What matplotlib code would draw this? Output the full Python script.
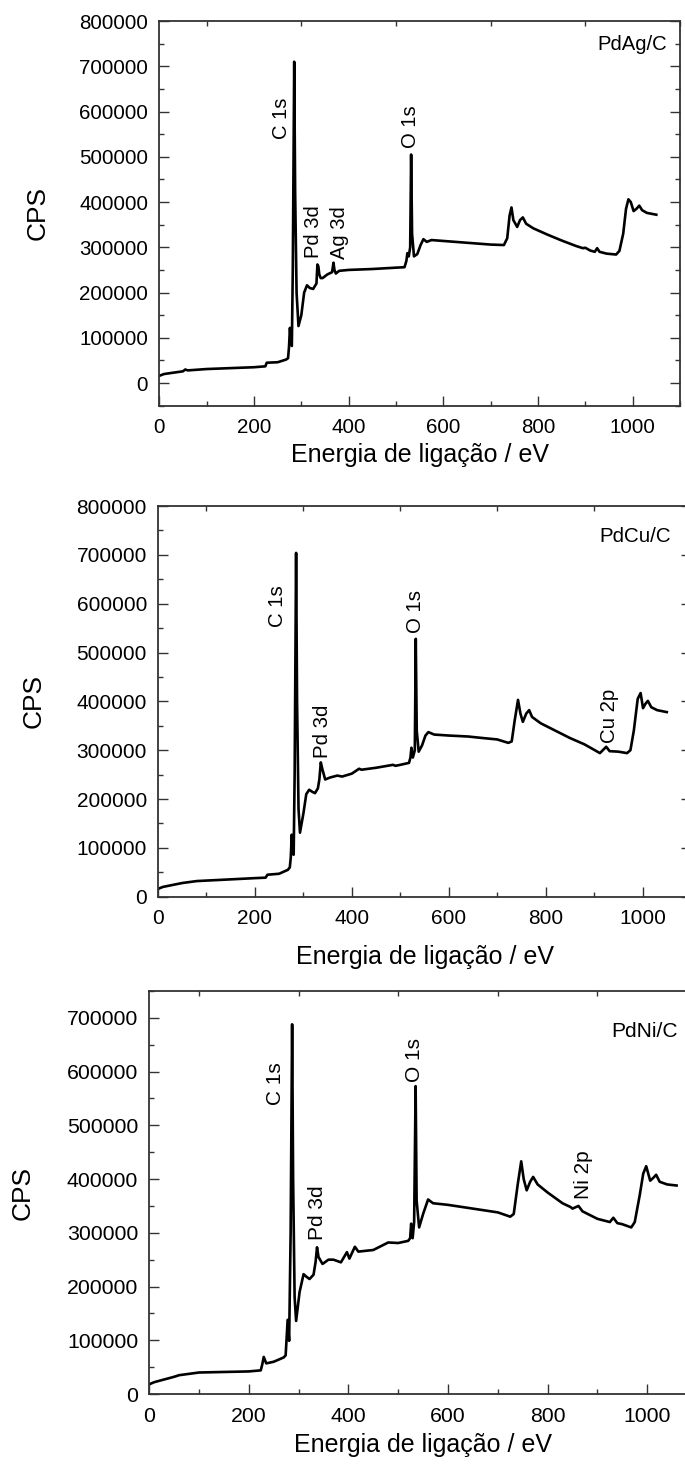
import matplotlib
matplotlib.use('Agg')
import matplotlib.pyplot as plt
from matplotlib.ticker import MultipleLocator

plt.rcParams['font.family'] = ['Liberation Sans', 'DejaVu Sans']

# PdAg/C survey spectrum (binding energy / eV, counts per second)
ag_ev = [0, 10, 30, 50, 55, 60, 100, 150, 200, 224,
         227, 250, 268, 272, 274, 276, 278, 280, 282, 285,
         287, 290, 294, 300, 306, 312, 318, 325, 332, 334,
         336, 338, 341, 345, 355, 365, 368, 370, 373, 380,
         400, 450, 500, 518, 522, 524, 527, 530, 532, 534,
         538, 545, 552, 558, 565, 575, 600, 650, 700, 728,
         735, 740, 744, 748, 756, 762, 768, 775, 790, 820,
         850, 880, 895, 900, 910, 920, 925, 930, 945, 965,
         972, 980, 986, 991, 996, 1002, 1008, 1014, 1020, 1030,
         1050]
ag_cps = [16000, 20000, 23000, 26000, 30000, 28000, 31000, 33000, 35000, 37000,
          45000, 46000, 52000, 55000, 80000, 122000, 88000, 82000, 250000, 710000,
          420000, 200000, 126000, 150000, 200000, 216000, 210000, 208000, 220000, 262000,
          258000, 240000, 232000, 232000, 240000, 245000, 266000, 250000, 242000, 248000,
          250000, 252000, 255000, 256000, 270000, 287000, 280000, 300000, 505000, 330000,
          280000, 285000, 305000, 318000, 312000, 316000, 314000, 310000, 306000, 305000,
          320000, 370000, 388000, 360000, 345000, 360000, 366000, 352000, 342000, 328000,
          315000, 303000, 298000, 299000, 293000, 290000, 298000, 290000, 286000, 284000,
          292000, 330000, 385000, 406000, 400000, 380000, 385000, 392000, 382000, 376000,
          372000]

# PdCu/C survey spectrum
cu_ev = [0, 10, 30, 50, 80, 120, 160, 200, 222, 226,
         250, 268, 272, 274, 276, 278, 280, 282, 285, 287,
         290, 293, 300, 306, 312, 318, 324, 330, 333, 336,
         339, 345, 355, 370, 380, 400, 415, 420, 450, 485,
         490, 500, 518, 521, 523, 526, 530, 532, 534, 538,
         545, 552, 558, 570, 600, 640, 669, 700, 723, 730,
         736, 743, 748, 753, 760, 766, 772, 790, 820, 850,
         880, 905, 912, 918, 925, 932, 950, 968, 975, 982,
         990, 996, 1001, 1006, 1011, 1018, 1030, 1050]
cu_cps = [16000, 20000, 24000, 28000, 32000, 34000, 36000, 38000, 39000, 45000,
          47000, 55000, 60000, 80000, 127000, 88000, 86000, 250000, 704000, 400000,
          180000, 131000, 170000, 210000, 219000, 215000, 212000, 222000, 240000, 275000,
          262000, 240000, 244000, 248000, 246000, 252000, 262000, 260000, 264000, 270000,
          268000, 270000, 274000, 285000, 305000, 285000, 300000, 528000, 340000, 297000,
          310000, 330000, 337000, 332000, 330000, 328000, 325000, 322000, 315000, 318000,
          360000, 403000, 375000, 358000, 375000, 382000, 368000, 355000, 340000, 325000,
          312000, 298000, 294000, 300000, 307000, 298000, 297000, 294000, 300000, 340000,
          405000, 417000, 386000, 395000, 401000, 388000, 382000, 378000]

# PdNi/C survey spectrum
ni_ev = [0, 10, 30, 50, 60, 100, 150, 200, 224, 227,
         230, 235, 250, 270, 274, 278, 281, 284, 287, 289,
         292, 295, 302, 310, 316, 322, 330, 334, 337, 340,
         348, 360, 370, 385, 397, 402, 413, 420, 450, 480,
         500, 520, 524, 526, 529, 532, 535, 537, 542, 550,
         560, 570, 600, 650, 700, 725, 732, 740, 747, 752,
         758, 765, 771, 780, 800, 830, 846, 850, 862, 870,
         900, 925, 932, 940, 950, 968, 975, 985, 992, 998,
         1006, 1012, 1018, 1025, 1040, 1059]
ni_cps = [18000, 22000, 27000, 32000, 35000, 40000, 41000, 42000, 44000, 55000,
          69000, 57000, 60000, 68000, 72000, 138000, 99000, 300000, 688000, 400000,
          180000, 136000, 190000, 223000, 218000, 214000, 222000, 245000, 273000, 255000,
          242000, 250000, 250000, 245000, 264000, 252000, 274000, 265000, 268000, 282000,
          281000, 285000, 290000, 317000, 290000, 320000, 573000, 360000, 310000, 335000,
          362000, 355000, 352000, 345000, 338000, 330000, 335000, 390000, 433000, 400000,
          379000, 395000, 404000, 390000, 375000, 355000, 348000, 345000, 350000, 340000,
          326000, 320000, 328000, 318000, 316000, 310000, 320000, 370000, 410000, 424000,
          397000, 402000, 408000, 395000, 390000, 388000]

# peak labels
ag_peaks = ["C 1s", "Pd 3d", "Ag 3d", "O 1s"]
ag_peak_ev = [258, 325, 381, 530]
ag_peak_cps = [539000, 276000, 274000, 519000]
cu_peaks = ["C 1s", "O 1s", "Pd 3d", "Cu 2p"]
cu_peak_ev = [247, 532, 339, 932]
cu_peak_cps = [553000, 540000, 284000, 315000]
ni_peaks = ["C 1s", "O 1s", "Pd 3d", "Ni 2p"]
ni_peak_ev = [254, 533, 337, 873]
ni_peak_cps = [537000, 581000, 287000, 362000]

samples = ["PdAg/C", "PdCu/C", "PdNi/C"]
sample_pos = [(1073, 749000), (1058, 737000), (1062, 674000)]

W, H = 685, 1464
fig = plt.figure(figsize=(W / 100, H / 100), dpi=100)

# axes boxes in pixels: left, top, right, bottom
boxes = [(159.3, 21, 680, 405.7), (158, 506, 691, 896.7), (149.2, 991, 697, 1394)]
ylims = [(-50000, 800000), (0, 800000), (0, 750000)]
xlab_y = [-0.097, -0.124, -0.097]
fs = [14.8, 15.0, 15.3]

series = [(ag_ev, ag_cps, ag_peaks, ag_peak_ev, ag_peak_cps),
          (cu_ev, cu_cps, cu_peaks, cu_peak_ev, cu_peak_cps),
          (ni_ev, ni_cps, ni_peaks, ni_peak_ev, ni_peak_cps)]

for i, (ev, cps, names, px, py) in enumerate(series):
    l, t, r, b = boxes[i]
    ax = fig.add_axes([l / W, 1 - b / H, (r - l) / W, (b - t) / H])
    ax.plot(ev, cps, color='black', lw=1.9)
    ax.set_xlim(0, 1100)
    ax.set_ylim(*ylims[i])
    ax.xaxis.set_major_locator(MultipleLocator(200))
    ax.xaxis.set_minor_locator(MultipleLocator(100))
    ax.yaxis.set_major_locator(MultipleLocator(100000))
    ax.yaxis.set_minor_locator(MultipleLocator(50000))
    ax.tick_params(which='both', direction='in', top=True, right=True,
                   labelsize=fs[i], width=1.0, color='#333333')
    ax.tick_params(which='major', length=7, pad=8)
    ax.tick_params(which='minor', length=3.5)
    ax.tick_params(axis='x', which='major', pad=9)
    ax.tick_params(top=False, which='major', axis='x')
    for sp in ax.spines.values():
        sp.set_linewidth(1.3)
        sp.set_color('#333333')
    ax.set_xlabel('Energia de ligação / eV', fontsize=18)
    ax.set_ylabel('CPS', fontsize=19)
    ax.xaxis.set_label_coords(0.5, xlab_y[i])
    ax.yaxis.set_label_coords(-0.21, 0.5)
    for name, x, y in zip(names, px, py):
        ax.text(x, y, name, rotation=90, ha='center', va='bottom', fontsize=fs[i] - 0.3)
    sx, sy = sample_pos[i]
    ax.text(sx, sy, samples[i], ha='right', va='center', fontsize=fs[i] - 0.2)

fig.savefig('out.png', dpi=100)
